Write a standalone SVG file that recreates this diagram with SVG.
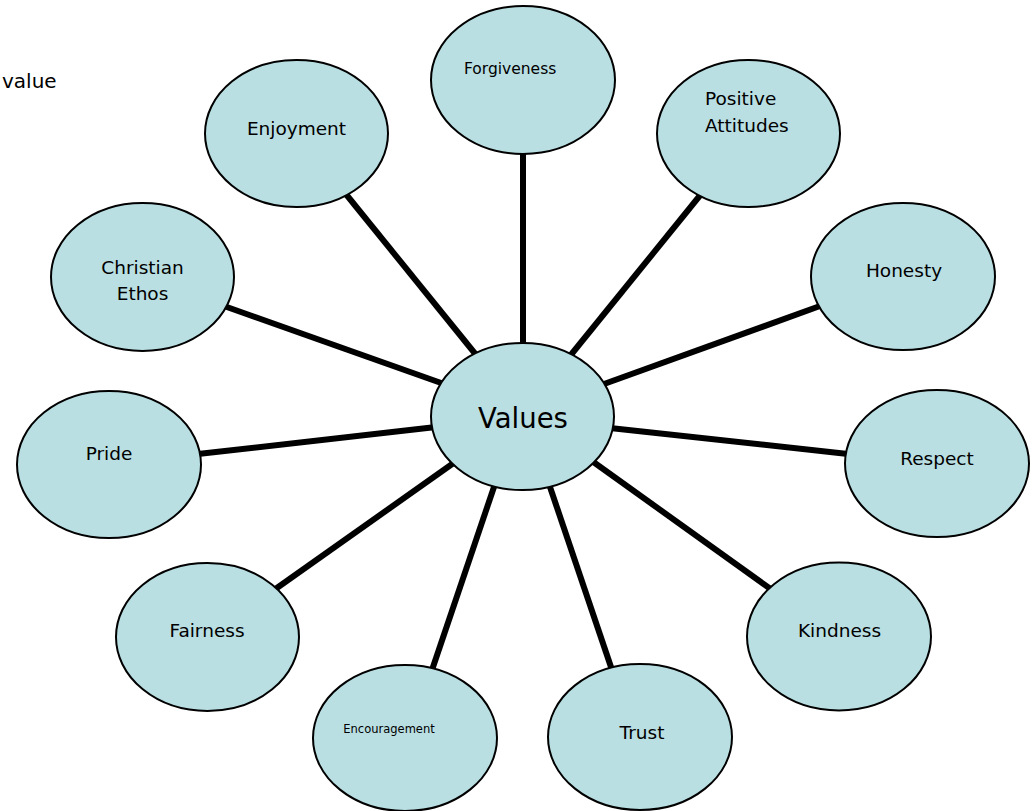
<svg xmlns="http://www.w3.org/2000/svg" width="1036" height="811" viewBox="0 0 1036 811">
<style>
.n ellipse{fill:#b9dfe3;stroke:#000;stroke-width:2}
text{font-family:"DejaVu Sans","Liberation Sans",sans-serif;fill:#000}
.l{font-size:18.5px;text-anchor:middle}
.c line{stroke:#000;stroke-width:6;stroke-linecap:butt}
</style>
<rect width="1036" height="811" fill="#fff"/>
<text x="2" y="88" font-size="20">value</text>
<g class="c" id="connectors">
<line x1="523" y1="150" x2="523" y2="350"/>
<line x1="702" y1="193" x2="570" y2="356"/>
<line x1="820" y1="306" x2="604" y2="384"/>
<line x1="848" y1="454" x2="610" y2="428"/>
<line x1="772" y1="590" x2="592" y2="461"/>
<line x1="612" y1="670" x2="549" y2="484"/>
<line x1="432" y1="670" x2="495" y2="484"/>
<line x1="274" y1="590" x2="455" y2="462"/>
<line x1="198" y1="454" x2="436" y2="427"/>
<line x1="224" y1="306" x2="444" y2="384"/>
<line x1="345" y1="193" x2="477" y2="356"/>
</g>
<g class="n" id="node-values"><ellipse cx="522.5" cy="416.5" rx="91.5" ry="73.5"/><text x="523" y="428" font-size="27.5" text-anchor="middle">Values</text></g>
<g class="n" id="node-forgiveness"><ellipse cx="523" cy="80" rx="92" ry="74"/><text x="464" y="74" font-size="15.5">Forgiveness</text></g>
<g class="n" id="node-positive-attitudes"><ellipse cx="748.5" cy="133.5" rx="91.5" ry="73.5"/><text x="705" y="105" font-size="18.5">Positive</text><text x="705" y="132" font-size="18.5">Attitudes</text></g>
<g class="n" id="node-honesty"><ellipse cx="903" cy="276.5" rx="92" ry="73.5"/><text class="l" x="904" y="277">Honesty</text></g>
<g class="n" id="node-respect"><ellipse cx="937" cy="463.5" rx="92" ry="73.5"/><text class="l" x="937" y="465">Respect</text></g>
<g class="n" id="node-kindness"><ellipse cx="839" cy="636.5" rx="92" ry="74"/><text class="l" x="839.5" y="637">Kindness</text></g>
<g class="n" id="node-trust"><ellipse cx="640" cy="737" rx="92" ry="73"/><text class="l" x="642" y="739">Trust</text></g>
<g class="n" id="node-encouragement"><ellipse cx="405" cy="738" rx="92" ry="73"/><text x="389" y="733" font-size="11.5" text-anchor="middle">Encouragement</text></g>
<g class="n" id="node-fairness"><ellipse cx="207.5" cy="637" rx="91.5" ry="74"/><text class="l" x="207" y="637">Fairness</text></g>
<g class="n" id="node-pride"><ellipse cx="109" cy="464.5" rx="92" ry="73.5"/><text class="l" x="109" y="460">Pride</text></g>
<g class="n" id="node-christian-ethos"><ellipse cx="142.5" cy="277" rx="91.5" ry="74"/><text class="l" x="142.5" y="274">Christian</text><text class="l" x="142.5" y="300">Ethos</text></g>
<g class="n" id="node-enjoyment"><ellipse cx="296.5" cy="133.5" rx="91.5" ry="73.5"/><text class="l" x="296.5" y="135">Enjoyment</text></g>
</svg>
